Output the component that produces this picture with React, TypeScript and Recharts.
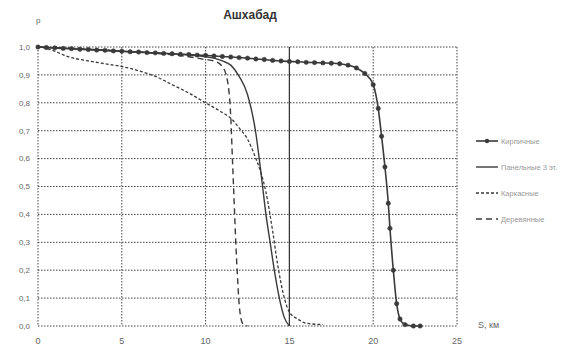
import React from "react";
import {
  LineChart, Line, XAxis, YAxis, CartesianGrid, ReferenceLine
} from "recharts";

// S, km -> probability
const seriesAx = [0, 0.5, 1, 1.5, 2, 2.5, 3, 3.5, 4, 4.5, 5, 5.5, 6, 6.5, 7, 7.5, 8, 8.5, 9, 9.5, 10, 10.5, 11, 11.5, 12, 12.5, 13, 13.5, 14, 14.5, 15, 15.5, 16, 16.5, 17, 17.5, 18, 18.5, 19, 19.5, 20, 20.3, 20.5, 20.7, 20.9, 21, 21.2, 21.4, 21.6, 21.9, 22.4, 22.8];
const seriesAy = [1.0, 0.998, 0.997, 0.995, 0.994, 0.992, 0.991, 0.989, 0.988, 0.986, 0.985, 0.983, 0.982, 0.98, 0.979, 0.977, 0.976, 0.974, 0.973, 0.971, 0.97, 0.968, 0.966, 0.964, 0.962, 0.96, 0.957, 0.955, 0.952, 0.95, 0.948, 0.947, 0.945, 0.944, 0.943, 0.942, 0.94, 0.935, 0.925, 0.905, 0.865, 0.78, 0.68, 0.57, 0.44, 0.35, 0.2, 0.08, 0.025, 0.005, 0, 0];

const seriesBx = [0, 5, 10, 10.5, 11, 11.5, 12, 12.5, 13, 13.2, 13.4, 13.6, 13.85, 14.1, 14.4, 14.7, 15];
const seriesBy = [1.0, 0.985, 0.965, 0.96, 0.95, 0.935, 0.895, 0.83, 0.69, 0.6, 0.5, 0.4, 0.3, 0.2, 0.1, 0.03, 0];

const seriesCx = [0, 0.5, 1, 1.5, 2, 3, 4, 5, 6, 7, 8, 9, 10, 11, 11.5, 12, 12.5, 13, 13.3, 13.6, 14, 14.3, 14.7, 15, 15.5, 16, 17];
const seriesCy = [1.0, 0.995, 0.985, 0.972, 0.962, 0.95, 0.94, 0.93, 0.915, 0.895, 0.865, 0.835, 0.8, 0.765, 0.745, 0.71, 0.67, 0.6, 0.55, 0.48, 0.34, 0.22, 0.1, 0.05, 0.025, 0.01, 0.005];

const seriesDx = [0, 5, 9, 10, 10.5, 11, 11.3, 11.5, 11.6, 11.7, 11.8, 11.9, 12, 12.2, 12.5];
const seriesDy = [1.0, 0.985, 0.965, 0.955, 0.95, 0.93, 0.88, 0.75, 0.6, 0.45, 0.3, 0.18, 0.08, 0.01, 0];

const seriesNames = ["Кирпичные", "Панельные 3 эт.", "Каркасные", "Деревянные"];
const xTicks = [0, 5, 10, 15, 20, 25];
const yTicks = [0, 0.1, 0.2, 0.3, 0.4, 0.5, 0.6, 0.7, 0.8, 0.9, 1.0];

const zip = (xs: number[], ys: number[]) => xs.map((s, i) => ({ s, p: ys[i] }));

const ink = "#3a3a3a";
const font = "Liberation Sans, Arial, sans-serif";
const styles = [
  { dash: undefined, width: 1.6, dot: true },
  { dash: undefined, width: 1.4, dot: false },
  { dash: "3 2", width: 1.3, dot: false },
  { dash: "6 4", width: 1.4, dot: false },
];

function LegendBox() {
  return (
    <div style={{ position: "absolute", left: 476, top: 128, fontFamily: font, fontSize: 7.5, color: "#9a9a9a", whiteSpace: "nowrap" }}>
      {seriesNames.map((n, i) => (
        <div key={n} style={{ display: "flex", alignItems: "center", height: 26 }}>
          <svg width={22} height={8} style={{ marginRight: 3 }}>
            <line x1={0} y1={4} x2={22} y2={4} stroke={ink} strokeWidth={styles[i].width}
              strokeDasharray={styles[i].dash} />
            {styles[i].dot && <circle cx={11} cy={4} r={2.2} fill={ink} />}
          </svg>
          <span>{n}</span>
        </div>
      ))}
    </div>
  );
}

export default function App() {
  const sets = [zip(seriesAx, seriesAy), zip(seriesBx, seriesBy), zip(seriesCx, seriesCy), zip(seriesDx, seriesDy)];
  return (
    <div style={{ position: "absolute", left: 0, top: 0, width: 564, height: 349, background: "#fff" }}>
      <div style={{ position: "absolute", left: 0, width: 500, top: 8, textAlign: "center", fontFamily: font, fontWeight: "bold", fontSize: 12, color: "#333" }}>
        Ашхабад
      </div>
      <div style={{ position: "absolute", left: 36, top: 16, fontFamily: font, fontSize: 8, color: "#666" }}>р</div>
      <div style={{ position: "absolute", left: 478, top: 320, fontFamily: font, fontSize: 9, color: "#666" }}>S, км</div>
      <LineChart width={564} height={349} margin={{ top: 47, right: 107, bottom: 3, left: 0 }}>
        <CartesianGrid stroke="#444" strokeDasharray="1.5 1.5" />
        <XAxis dataKey="s" type="number" domain={[0, 25]} ticks={xTicks} allowDuplicatedCategory={false}
          axisLine={false} tickLine={false} height={20} tickMargin={6}
          tick={{ fontSize: 9, fill: "#666", fontFamily: font }} />
        <YAxis type="number" domain={[0, 1]} ticks={yTicks} width={38} axisLine={false} tickLine={false}
          tickFormatter={(v: number) => v.toFixed(1).replace(".", ",")}
          tick={{ fontSize: 8, fill: "#666", fontFamily: font }} />
        <ReferenceLine x={15} stroke="#333" strokeWidth={1.2} />
        {sets.map((d, i) => (
          <Line key={seriesNames[i]} data={d} dataKey="p" name={seriesNames[i]} type="monotone"
            stroke={ink} strokeWidth={styles[i].width} strokeDasharray={styles[i].dash}
            dot={styles[i].dot ? { r: 2.2, fill: ink, stroke: ink, strokeWidth: 0.5 } : false}
            isAnimationActive={false} />
        ))}
      </LineChart>
      <LegendBox />
    </div>
  );
}
